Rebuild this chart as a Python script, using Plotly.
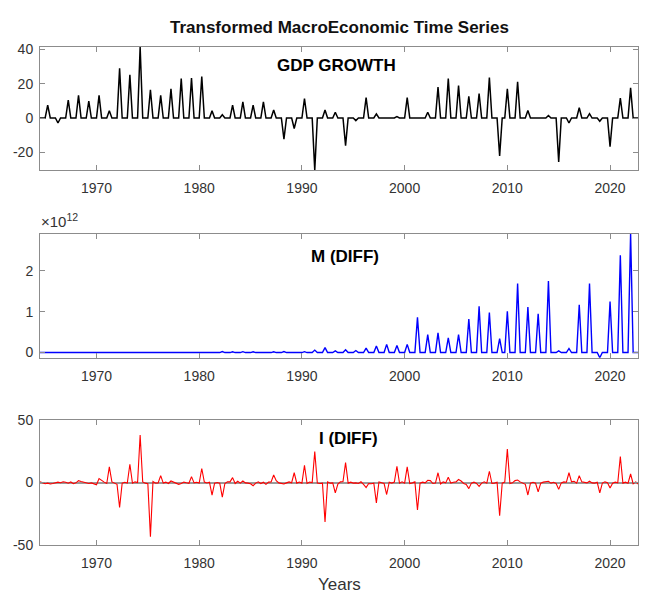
import numpy as np
import plotly.graph_objects as go

# ---------------------------------------------------------------------------
# Quarterly sample: 1964Q3 .. 2022Q4 (decimal years)
# ---------------------------------------------------------------------------
start_year = 1964.5
n_quarters = 234
dates = start_year + 0.25 * np.arange(n_quarters)

# GDP growth: non-zero once a year, zero in the other quarters
gdp_dates = [1965.25, 1966.25, 1967.25, 1968.25, 1969.25, 1970.25, 1971.25,
             1972.25, 1973.25, 1974.25, 1975.25, 1976.25, 1977.25, 1978.25,
             1979.25, 1980.25, 1981.25, 1982.25, 1983.25, 1984.25, 1985.25,
             1986.25, 1987.25, 1988.25, 1989.25, 1990.25, 1991.25, 1992.25,
             1993.25, 1994.25, 1995.25, 1996.25, 1997.25, 1999.25, 2000.25,
             2002.25, 2003.25, 2004.25, 2005.25, 2006.25, 2007.25, 2008.25,
             2009.25, 2010.0, 2011.0, 2012.0, 2013.0, 2014.0, 2015.0, 2016.0,
             2017.0, 2018.0, 2019.0, 2020.0, 2021.0, 2022.0]
gdp_values = [7.5, -2.9, 10.4, 13.2, 9.8, 13.2, 4.2,
              29.0, 25.2, 41.5, 16.5, 13.2, 17.0, 23.1,
              23.3, 24.2, 4.3, 1.9, 7.5, 9.4, 7.5,
              9.4, 4.7, -12.3, -6.1, 11.4, -30.5, 4.7,
              3.4, -16.1, -1.5, 11.9, 2.4, 0.8, 11.9,
              3.4, 18.0, 23.1, 18.9, 12.7, 14.2, 23.7,
              -22.2, 17.0, 21.2, 4.4, 0.3, 1.5, -25.6, -2.9,
              6.0, 2.5, -1.9, -16.7, 11.6, 17.6]

# Money (first difference), in units of 1e12, non-zero once a year
m_dates = [1976.25, 1977.25, 1978.25, 1979.25, 1980.25, 1981.25, 1982.25,
           1983.25, 1984.25, 1985.25, 1986.25, 1987.25, 1988.25, 1989.25,
           1990.25, 1991.25, 1992.25, 1993.25, 1994.25, 1995.25, 1996.25,
           1997.25, 1998.25, 1999.25, 2000.25, 2001.25, 2002.25, 2003.25,
           2004.25, 2005.25, 2006.25, 2007.25, 2008.25, 2009.25, 2010.0,
           2011.0, 2012.0, 2013.0, 2014.0, 2015.0, 2016.0, 2017.0, 2018.0,
           2019.0, 2020.0, 2021.0, 2022.0]
m_values_e12 = [0.005, 0.006, 0.008, 0.008, 0.015, 0.012, 0.025,
                0.02, 0.022, 0.02, 0.012, 0.02, 0.025, 0.012,
                0.022, 0.06, 0.12, 0.04, 0.07, 0.05, 0.11,
                0.16, 0.2, 0.17, 0.2, 0.86, 0.44, 0.48,
                0.36, 0.44, 0.82, 1.13, 0.98, 0.34, 1.01,
                1.69, 1.11, 0.95, 1.75, 0.04, 0.1, 1.17, 1.69,
                -0.126, 1.25, 2.38, 2.91]

# Interest rate (first difference), every quarter
i_diff = [
    0.5, -0.5,                   # 1964 Q3-Q4
    -1.0, -0.5, -1.2, -0.8,      # 1965
    -0.5, 0.3, -0.2, 0.6,        # 1966
    0.2, -0.6, 0.4, -1.0,        # 1967
    -0.3, 1.5, 0.8, 0.2,         # 1968
    -0.6, -0.8, -0.3, -1.0,      # 1969
    -1.8, 3.2, 1.5, 0.3,         # 1970
    -0.8, 12.5, 0.5, -0.5,       # 1971
    -1.5, -20.0, -0.5, 0.2,      # 1972
    -0.5, 14.6, -0.5, 0.5,       # 1973
    0.0, 37.9, 0.5, -0.5,        # 1974
    -1.0, -43.3, 0.8, -0.5,      # 1975
    -0.3, 5.5, -0.5, 0.3,        # 1976
    -0.8, 1.2, 0.2, -0.5,        # 1977
    -1.5, -0.8, 0.3, -0.2,       # 1978
    -0.6, 4.7, -0.3, 0.2,        # 1979
    -0.5, 11.2, 0.3, -0.4,       # 1980
    0.2, -10.1, -0.5, 0.0,       # 1981
    -0.5, -11.7, -0.8, 0.5,      # 1982
    0.5, 3.9, -0.8, 1.0,         # 1983
    -0.5, 1.2, -0.3, -0.5,       # 1984
    -1.0, -2.6, -0.5, 0.5,       # 1985
    -0.8, 0.2, -1.5, 0.3,        # 1986
    0.5, 6.0, 1.5, -0.3,         # 1987
    -0.8, -1.2, -0.3, 0.5,       # 1988
    -0.2, 7.8, -0.5, 0.4,        # 1989
    -0.5, 13.8, -0.8, 0.3,       # 1990
    0.0, 24.7, -0.5, -0.8,       # 1991
    -0.5, -31.6, 0.5, -0.5,      # 1992
    -0.3, -8.3, -1.2, 0.5,       # 1993
    0.8, 15.9, -0.5, 0.3,        # 1994
    -0.5, -0.3, -0.8, 0.6,       # 1995
    -1.5, -4.0, -0.8, -1.0,      # 1996
    -0.5, -16.3, 0.5, -0.3,      # 1997
    -0.8, -9.6, 0.2, -0.5,       # 1998
    0.3, 13.0, -0.5, 0.5,        # 1999
    -0.5, 12.5, -0.8, -0.3,      # 2000
    0.5, -22.0, -0.5, 0.3,       # 2001
    -0.3, 1.8, 1.5, -0.8,        # 2002
    -0.5, 7.8, -1.2, 0.5,        # 2003
    -0.3, 4.2, -0.5, 0.2,        # 2004
    0.5, 2.4, 1.2, -0.8,         # 2005
    -1.5, -4.9, -0.5, 0.3,       # 2006
    -0.8, -3.1, -0.5, 0.5,       # 2007
    -0.5, 9.0, -0.8, -0.5,       # 2008
    0.2, -26.5, -0.5, 0.3,       # 2009
    26.8, -0.8, -0.3, 1.5,       # 2010
    2.0, 0.5, -0.8, -1.5,        # 2011
    -10.0, -0.5, 0.2, -0.6,      # 2012
    -7.5, -0.5, 0.3, 0.6,        # 2013
    1.0, -0.5, 0.2, -0.8,        # 2014
    -5.5, -0.3, 0.5, 0.2,        # 2015
    7.8, 0.5, 1.0, -0.5,         # 2016
    5.5, 0.5, 0.3, -0.3,         # 2017
    1.0, -0.3, -0.5, 0.2,        # 2018
    -8.3, -0.5, 0.5, -0.2,       # 2019
    -4.4, -0.5, 0.3, -0.2,       # 2020
    20.8, -0.5, 0.3, -0.6,       # 2021
    6.8, -1.0, 0.5, -1.2,        # 2022
]

year_ticks = [1970, 1980, 1990, 2000, 2010, 2020]


def quarterly(spike_dates, spike_values):
    series = np.zeros(n_quarters)
    for d, v in zip(spike_dates, spike_values):
        series[int(round((d - start_year) * 4))] = v
    return series


gdp = quarterly(gdp_dates, gdp_values)
m_diff = quarterly(m_dates, m_values_e12)

# ---------------------------------------------------------------------------
# Figure
# ---------------------------------------------------------------------------
W, H = 648, 600
FONT = "Liberation Sans, Arial, Helvetica, sans-serif"
FRAME = "#8c8c8c"
TICKTXT = "#333333"


def px_x(x):
    return x / W


def px_y(y):
    return 1 - y / H


x_dom = [px_x(40), px_x(638.3)]
panels = [
    (40.0, 166.7),
    (231.7, 359.3),
    (423.3, 551.7),
]

fig = go.Figure()
fig.add_trace(go.Scatter(x=dates, y=gdp, mode="lines",
                         line=dict(color="#000000", width=1.5),
                         xaxis="x", yaxis="y", showlegend=False))
fig.add_trace(go.Scatter(x=dates, y=m_diff, mode="lines",
                         line=dict(color="#0000ff", width=1.4),
                         xaxis="x2", yaxis="y2", showlegend=False))
fig.add_trace(go.Scatter(x=dates, y=i_diff, mode="lines",
                         line=dict(color="#ff0000", width=1.1),
                         xaxis="x3", yaxis="y3", showlegend=False))

common_axis = dict(
    showline=True, linecolor=FRAME, linewidth=1, mirror="ticks",
    ticks="inside", ticklen=5, tickcolor=FRAME, tickwidth=1,
    showgrid=False, zeroline=False,
    tickfont=dict(family=FONT, size=14, color=TICKTXT),
)

x_range = [float(dates[0]), float(dates[-1])]
y_ranges = [
    [min(gdp_values), max(gdp_values)],
    [min(m_values_e12), max(m_values_e12)],
    [-50, 50],
]
y_ticks = [[-20, 0, 20, 40], [0, 1, 2], [-50, 0, 50]]

layout = dict(
    width=W, height=H,
    margin=dict(l=0, r=0, t=0, b=0),
    paper_bgcolor="white", plot_bgcolor="white",
    showlegend=False,
)
for k, (top, bottom) in enumerate(panels):
    sfx = "" if k == 0 else str(k + 1)
    layout["xaxis" + sfx] = dict(
        common_axis, domain=x_dom, range=x_range, anchor="y" + sfx,
        tickvals=year_ticks, ticktext=[str(v) for v in year_ticks],
        ticklabelstandoff=5,
    )
    yax = dict(
        common_axis, domain=[px_y(bottom), px_y(top)], range=y_ranges[k],
        anchor="x" + sfx, tickvals=y_ticks[k],
        ticktext=[str(v) for v in y_ticks[k]], ticklabelstandoff=3,
    )
    if k == 2:
        yax.update(zeroline=True, zerolinecolor="#9a9a9a", zerolinewidth=1.5)
    layout["yaxis" + sfx] = yax

fig.update_layout(**layout)

x_mid = (x_dom[0] + x_dom[1]) / 2
annotations = [
    dict(text="<b>Transformed MacroEconomic Time Series</b>", x=x_mid, y=px_y(20),
         font=dict(size=17, color="#111111")),
    dict(text="<b>GDP GROWTH</b>", x=px_x(336.5), y=px_y(59),
         font=dict(size=17, color="#000000")),
    dict(text="<b>M (DIFF)</b>", x=px_x(345), y=px_y(255),
         font=dict(size=17, color="#000000")),
    dict(text="<b>I (DIFF)</b>", x=px_x(348), y=px_y(442),
         font=dict(size=17, color="#000000")),
    dict(text="Years", x=x_mid, y=px_y(592),
         font=dict(size=17, color=TICKTXT)),
]
for a in annotations:
    fig.add_annotation(xref="paper", yref="paper", showarrow=False,
                       xanchor="center", yanchor="middle",
                       font_family=FONT, **a)

fig.add_annotation(text="\u00d710<sup>12</sup>", xref="paper", yref="paper",
                   x=px_x(39), y=px_y(218), xanchor="left", yanchor="middle",
                   showarrow=False, font=dict(family=FONT, size=15, color=TICKTXT))

fig.write_html("out.html")
